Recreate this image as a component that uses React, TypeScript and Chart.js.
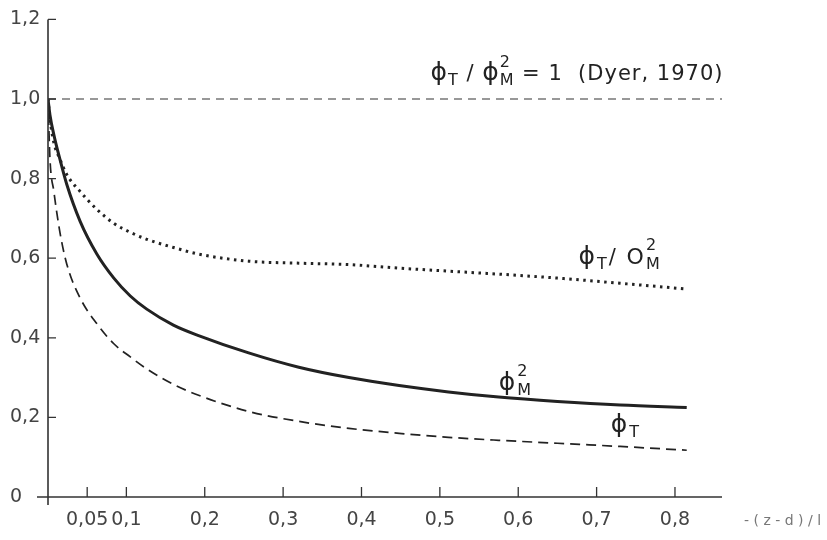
import React, { useEffect, useRef } from "react";
import { Chart, registerables } from "chart.js";

Chart.register(...registerables);

// ---- data ----
const xPoints = [0, 0.0025, 0.0075, 0.015, 0.024, 0.041, 0.0625, 0.084, 0.105, 0.126, 0.16, 0.193, 0.256, 0.32, 0.384, 0.448, 0.511, 0.575, 0.65, 0.73, 0.815];
const phiM2 = [1.0, 0.96, 0.91, 0.85, 0.785, 0.6925, 0.61, 0.55, 0.505, 0.472, 0.432, 0.405, 0.362, 0.326, 0.3, 0.28, 0.264, 0.251, 0.24, 0.231, 0.225];
const phiT = [1.0, 0.85, 0.7675, 0.6675, 0.585, 0.5, 0.435, 0.385, 0.352, 0.322, 0.283, 0.255, 0.215, 0.19, 0.1725, 0.16, 0.15, 0.1425, 0.135, 0.127, 0.1175];
const ratio = [1.0, 0.95, 0.89, 0.85, 0.81, 0.7675, 0.7225, 0.6875, 0.665, 0.6475, 0.627, 0.61, 0.5925, 0.5875, 0.584, 0.575, 0.5675, 0.56, 0.55, 0.537, 0.5225];
const dyerX = [0, 0.862];
const dyerY = [1.0, 1.0];

const xTicks = [0.05, 0.1, 0.2, 0.3, 0.4, 0.5, 0.6, 0.7, 0.8];
const xTickLabels = ["0,05", "0,1", "0,2", "0,3", "0,4", "0,5", "0,6", "0,7", "0,8"];
const yTicks = [0, 0.2, 0.4, 0.6, 0.8, 1.0, 1.2];
const yTickLabels = ["0", "0,2", "0,4", "0,6", "0,8", "1,0", "1,2"];
const xAxisTitle = "- ( z - d ) / l";

const FONT = "'DejaVu Sans', sans-serif";
const INK = "#222";

type Part = { t: string; size: number; dy?: number; stack?: boolean; gap?: number };

const phi = (s = 25): Part => ({ t: "\u03D5", size: s });

// annotation texts (anchored in data coordinates)
const annotations: { x: number; y: number; spacing: number; parts: Part[] }[] = [
  {
    x: 0.488,
    y: 1.048,
    spacing: 1,
    parts: [
      phi(), { t: "T", size: 16, dy: 5 }, { t: " / ", size: 21 },
      phi(), { t: "M", size: 16, dy: 5, stack: true }, { t: "2", size: 16, dy: -13 },
      { t: " = 1  (Dyer, 1970)", size: 21 },
    ],
  },
  {
    x: 0.677,
    y: 0.585,
    spacing: 2,
    parts: [
      phi(), { t: "T", size: 16, dy: 5 }, { t: "/ ", size: 21 },
      { t: "O", size: 22 }, { t: "M", size: 16, dy: 5, stack: true }, { t: "2", size: 16, dy: -14 },
    ],
  },
  {
    x: 0.575,
    y: 0.27,
    spacing: 2,
    parts: [phi(), { t: "M", size: 16, dy: 5, stack: true }, { t: "2", size: 16, dy: -14 }],
  },
  {
    x: 0.718,
    y: 0.163,
    spacing: 2,
    parts: [phi(), { t: "T", size: 16, dy: 5 }],
  },
];

function drawRich(ctx: CanvasRenderingContext2D, x: number, y: number, parts: Part[]) {
  let cx = x;
  let stackW = -1;
  for (const p of parts) {
    if (p.gap) {
      cx += p.gap;
      continue;
    }
    ctx.font = `${p.size}px ${FONT}`;
    const w = ctx.measureText(p.t).width;
    ctx.fillText(p.t, cx, y + (p.dy || 0));
    if (p.stack) {
      stackW = w;
    } else if (stackW >= 0) {
      cx += Math.max(stackW, w);
      stackW = -1;
    } else {
      cx += w;
    }
  }
}

const decorPlugin = {
  id: "decor",
  beforeDraw(chart: any) {
    const { ctx, width, height } = chart;
    ctx.save();
    ctx.fillStyle = "#ffffff";
    ctx.fillRect(0, 0, width, height);
    ctx.restore();
  },
  afterDraw(chart: any) {
    const { ctx, chartArea } = chart;
    const xs = chart.scales.x;
    const ys = chart.scales.y;
    const x0 = chartArea.left;
    const yb = ys.getPixelForValue(0);
    ctx.save();
    ctx.strokeStyle = "#333";
    ctx.lineWidth = 1.6;
    ctx.beginPath();
    // y axis
    ctx.moveTo(x0, ys.getPixelForValue(1.2));
    ctx.lineTo(x0, yb + 8);
    // x axis
    ctx.moveTo(x0 - 11, yb);
    ctx.lineTo(chartArea.right, yb);
    ctx.stroke();
    ctx.lineWidth = 1.3;
    ctx.beginPath();
    for (const v of yTicks) {
      if (v === 0) continue;
      const py = ys.getPixelForValue(v);
      ctx.moveTo(x0, py);
      ctx.lineTo(x0 + 8, py);
    }
    for (const v of xTicks) {
      const px = xs.getPixelForValue(v);
      ctx.moveTo(px, yb);
      ctx.lineTo(px, yb - 10);
    }
    ctx.stroke();

    // annotations
    ctx.fillStyle = INK;
    ctx.textBaseline = "alphabetic";
    ctx.textAlign = "left";
    for (const a of annotations) {
      (ctx as any).letterSpacing = `${a.spacing}px`;
      drawRich(ctx, xs.getPixelForValue(a.x), ys.getPixelForValue(a.y), a.parts);
    }
    (ctx as any).letterSpacing = "0px";
    // x axis title
    ctx.fillStyle = "#777";
    ctx.font = `14px ${FONT}`;
    ctx.textBaseline = "middle";
    ctx.fillText(xAxisTitle, chartArea.right + 22, yb + 24);
    ctx.restore();
  },
};

export default function App() {
  const ref = useRef<HTMLCanvasElement | null>(null);
  useEffect(() => {
    if (!ref.current) return;
    const mk = (ys: number[]) => xPoints.map((x, i) => ({ x, y: ys[i] }));
    const chart = new Chart(ref.current, {
      type: "line",
      data: {
        datasets: [
          {
            data: dyerX.map((x, i) => ({ x, y: dyerY[i] })),
            borderColor: "#333",
            borderWidth: 1.2,
            borderDash: [8, 6],
            pointRadius: 0,
            fill: false,
          },
          {
            data: mk(ratio),
            borderColor: INK,
            borderWidth: 3,
            borderDash: [2.5, 4.5],
            pointRadius: 0,
            cubicInterpolationMode: "monotone",
            fill: false,
          },
          {
            data: mk(phiM2),
            borderColor: INK,
            borderWidth: 3,
            pointRadius: 0,
            cubicInterpolationMode: "monotone",
            fill: false,
          },
          {
            data: mk(phiT),
            borderColor: INK,
            borderWidth: 1.7,
            borderDash: [10, 6],
            pointRadius: 0,
            cubicInterpolationMode: "monotone",
            fill: false,
          },
        ],
      },
      options: {
        responsive: false,
        animation: false,
        events: [],
        layout: { padding: { left: 10, right: 105, top: 17, bottom: 0 } },
        plugins: { legend: { display: false }, tooltip: { enabled: false } },
        scales: {
          x: {
            type: "linear",
            min: 0,
            max: 0.86,
            grid: { display: false, drawTicks: false },
            border: { display: false },
            afterBuildTicks: (s: any) => {
              s.ticks = xTicks.map((v) => ({ value: v }));
            },
            afterFit: (s: any) => {
              s.height = 43;
            },
            ticks: {
              autoSkip: false,
              maxRotation: 0,
              padding: 12,
              color: "#444",
              font: { family: FONT, size: 19 },
              callback: (v: any) => {
                const i = xTicks.indexOf(Number(v));
                return i >= 0 ? xTickLabels[i] : "";
              },
            },
          },
          y: {
            type: "linear",
            min: 0,
            max: 1.2,
            grid: { display: false, drawTicks: false },
            border: { display: false },
            afterBuildTicks: (s: any) => {
              s.ticks = yTicks.map((v) => ({ value: v }));
            },
            afterFit: (s: any) => {
              s.width = 38;
            },
            ticks: {
              autoSkip: false,
              padding: 8,
              crossAlign: "far",
              color: "#444",
              font: { family: FONT, size: 19 },
              callback: (v: any) => {
                const i = yTicks.findIndex((t) => Math.abs(t - Number(v)) < 1e-9);
                return i >= 0 ? yTickLabels[i] : "";
              },
            },
          },
        },
      },
      plugins: [decorPlugin],
    });
    return () => chart.destroy();
  }, []);
  return (
    <div style={{ position: "absolute", left: 0, top: 0, width: 827, height: 540, background: "#fff" }}>
      <canvas ref={ref} width={827} height={540} style={{ display: "block", width: 827, height: 540 }} />
    </div>
  );
}
